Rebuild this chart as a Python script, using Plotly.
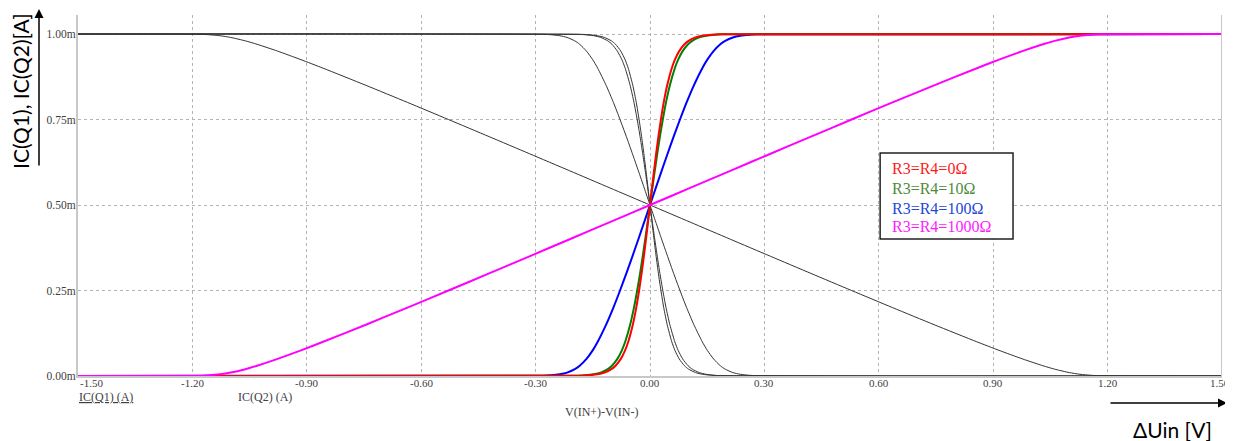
import plotly.graph_objects as go

# Collector current levels (mA) shared by the sampled points of each curve
IC_Q2_LEVELS = [0, 0.001, 0.002, 0.005, 0.01, 0.02, 0.03, 0.05, 0.075, 0.1, 0.15, 0.2, 0.25,
                0.3, 0.35, 0.4, 0.45, 0.5, 0.55, 0.6, 0.65, 0.7, 0.75, 0.8, 0.85, 0.9, 0.925,
                0.95, 0.97, 0.98, 0.99, 0.995, 0.998, 0.999, 1.0]
IC_Q1_LEVELS = [1.0, 0.999, 0.998, 0.995, 0.99, 0.98, 0.97, 0.95, 0.925, 0.9, 0.85, 0.8, 0.75,
                0.7, 0.65, 0.6, 0.55, 0.5, 0.45, 0.4, 0.35, 0.3, 0.25, 0.2, 0.15, 0.1, 0.075,
                0.05, 0.03, 0.02, 0.01, 0.005, 0.002, 0.001, 0]

# Differential input voltage (V) at which each level is reached, one list per R3=R4 value
V_R0 = [-1.5, -0.1796, -0.1615, -0.1376, -0.1195, -0.1012, -0.0904, -0.0766, -0.0653, -0.0571,
        -0.0451, -0.0360, -0.0286, -0.0220, -0.0161, -0.0105, -0.0052, 0.0, 0.0052, 0.0105,
        0.0161, 0.0220, 0.0286, 0.0360, 0.0451, 0.0571, 0.0653, 0.0766, 0.0904, 0.1012,
        0.1195, 0.1376, 0.1615, 0.1796, 1.5]
V_R10 = [-1.5, -0.1896, -0.1715, -0.1475, -0.1293, -0.1108, -0.0998, -0.0856, -0.0738, -0.0651,
         -0.0521, -0.0420, -0.0336, -0.0260, -0.0191, -0.0125, -0.0062, 0.0, 0.0062, 0.0125,
         0.0191, 0.0260, 0.0336, 0.0420, 0.0521, 0.0651, 0.0738, 0.0856, 0.0998, 0.1108,
         0.1293, 0.1475, 0.1715, 0.1896, 1.5]
V_R100 = [-1.5, -0.2794, -0.2611, -0.2366, -0.2175, -0.1972, -0.1844, -0.1666, -0.1503, -0.1371,
          -0.1151, -0.0960, -0.0786, -0.0620, -0.0461, -0.0305, -0.0152, 0.0, 0.0152, 0.0305,
          0.0461, 0.0620, 0.0786, 0.0960, 0.1151, 0.1371, 0.1503, 0.1666, 0.1844, 0.1972,
          0.2175, 0.2366, 0.2611, 0.2794, 1.5]
V_R1000 = [-1.5, -1.1776, -1.1575, -1.1276, -1.0995, -1.0612, -1.0304, -0.9766, -0.9153, -0.8571,
           -0.7451, -0.6360, -0.5286, -0.4220, -0.3161, -0.2105, -0.1052, 0.0, 0.1052, 0.2105,
           0.3161, 0.4220, 0.5286, 0.6360, 0.7451, 0.8571, 0.9153, 0.9766, 1.0304, 1.0612,
           1.0995, 1.1276, 1.1575, 1.1776, 1.5]

SERIES_NAMES = ["R3=R4=0Ω", "R3=R4=10Ω", "R3=R4=100Ω", "R3=R4=1000Ω"]
SERIES_V = [V_R0, V_R10, V_R100, V_R1000]
SERIES_COLORS = ["#ff0000", "#008000", "#0000ff", "#ff00ff"]
LEGEND_TEXT_COLORS = ["#ff1a1a", "#4f8a3c", "#2447d8", "#ff1aff"]

X_TICKS = [-1.5, -1.2, -0.9, -0.6, -0.3, 0.0, 0.3, 0.6, 0.9, 1.2, 1.5]
X_TICK_TEXT = ["-1.50", "-1.20", "-0.90", "-0.60", "-0.30", "0.00", "0.30", "0.60", "0.90", "1.20", "1.50"]
Y_TICKS = [0, 0.25, 0.5, 0.75, 1.0]
Y_TICK_TEXT = ["0.00m", "0.25m", "0.50m", "0.75m", "1.00m"]

# the page body has an 8px margin, so the figure starts at page pixel (8, 8)
OFF = 8
PAGE_W, PAGE_H = 1233, 441
W, H = PAGE_W - OFF, PAGE_H - OFF
PL, PR, PT, PB = 78, 1222, 15, 376          # plot area in page pixels
ML, MR, MT, MB = PL - OFF, PAGE_W - PR, PT - OFF, PAGE_H - PB
PW, PH = PR - PL, PB - PT


def px(x):
    return (x - PL) / PW


def py(y):
    return (PB - y) / PH


SERIF = "Liberation Serif"
SANS = "Lato"

fig = go.Figure()

# black IC(Q1) curves
for v in SERIES_V:
    fig.add_trace(go.Scatter(x=v, y=IC_Q1_LEVELS, mode="lines",
                             line=dict(color="#333333", width=1, shape="spline", smoothing=0.6),
                             showlegend=False, hoverinfo="skip"))

# coloured IC(Q2) curves, drawn so that red and magenta end up on top
for i in [2, 1, 0, 3]:
    fig.add_trace(go.Scatter(x=SERIES_V[i], y=IC_Q2_LEVELS, mode="lines", name=SERIES_NAMES[i],
                             line=dict(color=SERIES_COLORS[i], width=2, shape="spline", smoothing=0.6),
                             showlegend=False))

annotations = []
for t, txt in zip(X_TICKS, X_TICK_TEXT):
    first = t == X_TICKS[0]
    last = t == X_TICKS[-1]
    annotations.append(dict(x=t, y=py(383), xref="x", yref="paper", text=txt, showarrow=False,
                            xanchor="left" if first else "center", yanchor="middle",
                            xshift=-2 if last else 0,
                            font=dict(family=SERIF, size=11, color="#404040")))

# legend box text
leg_x = 0.6298
leg_y = [0.608, 0.5497, 0.4912, 0.4386]
for name, col, yy in zip(SERIES_NAMES, LEGEND_TEXT_COLORS, leg_y):
    annotations.append(dict(x=leg_x, y=yy, xref="x", yref="y", text=name, showarrow=False,
                            xanchor="left", yanchor="middle",
                            font=dict(family=SERIF, size=16, color=col)))

# bottom labels
annotations += [
    dict(x=px(77), y=py(397), xref="paper", yref="paper", text="<u>IC(Q1) (A)</u>", showarrow=False,
         xanchor="left", yanchor="middle", font=dict(family=SERIF, size=12, color="#404040")),
    dict(x=px(265), y=py(397), xref="paper", yref="paper", text="IC(Q2) (A)", showarrow=False,
         xanchor="center", yanchor="middle", font=dict(family=SERIF, size=12, color="#404040")),
    dict(x=px(601), y=py(412), xref="paper", yref="paper", text="V(IN+)-V(IN-)", showarrow=False,
         xanchor="center", yanchor="middle", font=dict(family=SERIF, size=12, color="#404040")),
    # axis titles
    dict(x=px(20), y=py(91), xref="paper", yref="paper", text="IC(Q1), IC(Q2)[A]", showarrow=False,
         textangle=-90, xanchor="center", yanchor="middle",
         font=dict(family=SANS, size=21, color="#000000")),
    dict(x=px(1172), y=py(430), xref="paper", yref="paper", text="ΔUin [V]", showarrow=False,
         xanchor="center", yanchor="middle", font=dict(family=SANS, size=21, color="#000000")),
    # arrows
    dict(x=px(39), y=py(9), xref="paper", yref="paper", text="", showarrow=True,
         ax=0, ay=158, arrowhead=2, arrowsize=1.2, arrowwidth=1.5, arrowcolor="#000000"),
    dict(x=px(1227), y=py(403), xref="paper", yref="paper", text="", showarrow=True,
         ax=-118, ay=0, arrowhead=2, arrowsize=1.2, arrowwidth=1.5, arrowcolor="#000000"),
]

shapes = [
    dict(type="line", xref="x", yref="paper", x0=1.5, x1=1.5, y0=0, y1=1,
         line=dict(color="#c8c8c8", width=2)),
    dict(type="rect", xref="x", yref="y", x0=0.6035, x1=0.952, y0=0.4006, y1=0.652,
         line=dict(color="#222222", width=1.5), fillcolor="white", layer="above"),
]

fig.update_layout(
    width=W, height=H,
    margin=dict(l=ML, r=MR, t=MT, b=MB),
    paper_bgcolor="white", plot_bgcolor="white",
    xaxis=dict(range=[-1.5, 1.5], tickvals=X_TICKS, showticklabels=False, ticks="",
               showgrid=True, gridcolor="#b4b4b4", griddash="dot", gridwidth=1,
               zeroline=False, showline=True, linecolor="#c8c8c8", linewidth=2),
    yaxis=dict(range=[0, 1.0556], tickvals=Y_TICKS, ticktext=Y_TICK_TEXT, ticks="",
               tickfont=dict(family=SERIF, size=11.5, color="#404040"),
               ticklabelstandoff=-2,
               showgrid=True, gridcolor="#b4b4b4", griddash="dot", gridwidth=1,
               zeroline=False, showline=True, linecolor="#c8c8c8", linewidth=2),
    annotations=annotations,
    shapes=shapes,
    showlegend=False,
)

fig.write_html("out.html")
